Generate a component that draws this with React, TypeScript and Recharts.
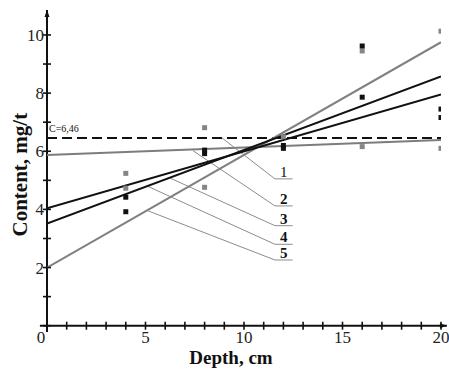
import React from 'react';
import {
  ComposedChart,
  Line,
  Scatter,
  XAxis,
  YAxis,
  ReferenceLine,
} from 'recharts';

// depths (cm) where the regression lines are drawn
const lineDepths = [0, 20];
const line1 = [5.87, 6.39];
const line2 = [4.04, 7.95];
const line3 = [3.51, 8.57];
const line4 = [2.0, 9.75];

// measured points
const greyDepths = [4, 4, 8, 8, 12, 16, 16, 20, 20];
const greyValues = [5.24, 4.73, 6.81, 4.76, 6.5, 9.45, 6.16, 10.13, 6.1];
const blackDepths = [4, 4, 8, 8, 12, 12, 16, 16, 20, 20];
const blackValues = [4.42, 3.92, 6.04, 5.92, 6.2, 6.1, 9.62, 7.86, 7.45, 7.16];

const background = 6.46;
const backgroundLabel = 'C=6,46';

const xTicks = [0, 1, 2, 3, 4, 5, 6, 7, 8, 9, 10, 11, 12, 13, 14, 15, 16, 17, 18, 19, 20];
const xTickLabels = [0, 5, 10, 15, 20];
const yTicks = [0, 1, 2, 3, 4, 5, 6, 7, 8, 9, 10];
const yTickLabels = [2, 4, 6, 8, 10];

// leader lines: start on a curve, end at the label underline
const calloutNames = ['1', '2', '3', '4', '5'];
const calloutStartX = [8.88, 7.41, 6.24, 5.06, 5.13];
const calloutStartY = [6.46, 6.02, 5.08, 4.81, 3.95];
const calloutY = [5.05, 4.12, 3.44, 2.8, 2.26];
const calloutLeft = 11.57;
const calloutRight = 12.47;

const toPoints = (xs: number[], ys: number[]) => xs.map((x, i) => ({ x, y: ys[i] }));

const serif = '"Liberation Serif", "Times New Roman", serif';

const XTick = (props: any) => {
  const { x, y, payload } = props;
  const v = payload.value;
  return (
    <g>
      <line x1={x} x2={x} y1={y - 4} y2={y + 4} stroke="#111" strokeWidth={1.6} />
      {xTickLabels.includes(v) && (
        <text
          x={v === 0 ? x - 6 : x}
          y={y + 17.5}
          textAnchor="middle"
          fontFamily={serif}
          fontSize={17}
          fill="#222"
        >
          {v}
        </text>
      )}
    </g>
  );
};

const YTick = (props: any) => {
  const { x, y, payload } = props;
  const v = payload.value;
  return (
    <g>
      <line x1={x - 4} x2={x + 4} y1={y} y2={y} stroke="#111" strokeWidth={1.6} />
      {yTickLabels.includes(v) && (
        <text
          x={x - 3}
          y={y + 6}
          textAnchor="end"
          fontFamily={serif}
          fontSize={17}
          fill="#222"
        >
          {v}
        </text>
      )}
    </g>
  );
};

const square = (fill: string) => (props: any) => (
  <rect x={props.cx - 2.5} y={props.cy - 2.5} width={5} height={5} fill={fill} />
);

const axisWithArrow = (dir: 'up' | 'right') => (props: any) => {
  const { x1, y1, x2, y2 } = props;
  const tipX = dir === 'right' ? Math.max(x1, x2) : x1;
  const tipY = dir === 'up' ? Math.min(y1, y2) : y1;
  const head =
    dir === 'up'
      ? `${tipX},${tipY} ${tipX - 2.5},${tipY + 7} ${tipX + 2.5},${tipY + 7}`
      : `${tipX},${tipY} ${tipX - 7},${tipY - 2.5} ${tipX - 7},${tipY + 2.5}`;
  return (
    <g>
      <line x1={x1} y1={y1} x2={x2} y2={y2} stroke="#111" strokeWidth={2} />
      <polygon points={head} fill="#111" />
    </g>
  );
};

export default function App() {
  return (
    <div style={{ position: 'absolute', left: 0, top: 0, width: 449, height: 371, background: '#fff' }}>
      <ComposedChart
        width={449}
        height={371}
        margin={{ top: 11.7, right: 8, bottom: 0, left: 0 }}
      >
        <ReferenceLine
          segment={[{ x: 0, y: -0.22 }, { x: 0, y: 10.86 }]}
          ifOverflow="visible"
          shape={axisWithArrow('up')}
        />
        <ReferenceLine
          segment={[{ x: -0.36, y: 0 }, { x: 20.3, y: 0 }]}
          ifOverflow="visible"
          shape={axisWithArrow('right')}
        />

        <XAxis
          type="number"
          dataKey="x"
          domain={[0, 20]}
          ticks={xTicks}
          interval={0}
          allowDataOverflow
          height={45.3}
          axisLine={false}
          tickLine={false}
          tickSize={0}
          tickMargin={0}
          tick={<XTick />}
          label={{
            content: (p: any) => (
              <text
                x={p.viewBox.x + p.viewBox.width / 2 - 13}
                y={p.viewBox.y + 38}
                textAnchor="middle"
                fontFamily={serif}
                fontWeight="bold"
                fontSize={19}
                fill="#111"
              >
                Depth, cm
              </text>
            ),
          }}
        />
        <YAxis
          type="number"
          dataKey="y"
          domain={[0, 10.8]}
          ticks={yTicks}
          interval={0}
          allowDataOverflow
          width={47}
          axisLine={false}
          tickLine={false}
          tickSize={0}
          tickMargin={0}
          tick={<YTick />}
          label={{
            content: (p: any) => {
              const cx = 20;
              const cy = p.viewBox.y + p.viewBox.height / 2 + 6;
              return (
                <text
                  x={cx}
                  y={cy}
                  transform={`rotate(-90 ${cx} ${cy})`}
                  textAnchor="middle"
                  dominantBaseline="central"
                  fontFamily={serif}
                  fontWeight="bold"
                  fontSize={21}
                  fill="#111"
                >
                  Content, mg/t
                </text>
              );
            },
          }}
        />

        <ReferenceLine
          y={background}
          stroke="#111"
          strokeWidth={2}
          strokeDasharray="10 5"
          label={{
            content: (p: any) => (
              <text
                x={p.viewBox.x + 2}
                y={p.viewBox.y - 6}
                fontFamily={serif}
                fontSize={10}
                fill="#111"
              >
                {backgroundLabel}
              </text>
            ),
          }}
        />

        {calloutNames.map((name, i) => (
          <ReferenceLine
            key={`lead-${name}`}
            segment={[
              { x: calloutStartX[i], y: calloutStartY[i] },
              { x: calloutLeft, y: calloutY[i] },
            ]}
            stroke="#8c8c8c"
            strokeWidth={1}
          />
        ))}
        {calloutNames.map((name, i) => (
          <ReferenceLine
            key={`under-${name}`}
            segment={[
              { x: calloutLeft, y: calloutY[i] },
              { x: calloutRight, y: calloutY[i] },
            ]}
            stroke="#8c8c8c"
            strokeWidth={1}
            label={{
              content: (p: any) => (
                <text
                  x={p.viewBox.x + p.viewBox.width / 2}
                  y={p.viewBox.y - 2}
                  textAnchor="middle"
                  fontFamily={serif}
                  fontWeight={i === 0 ? 'normal' : 'bold'}
                  fontSize={15}
                  fill="#111"
                >
                  {name}
                </text>
              ),
            }}
          />
        ))}

        <Line data={toPoints(lineDepths, line1)} dataKey="y" type="linear" stroke="#7d7d7d" strokeWidth={2} dot={false} isAnimationActive={false} />
        <Line data={toPoints(lineDepths, line4)} dataKey="y" type="linear" stroke="#808080" strokeWidth={2} dot={false} isAnimationActive={false} />
        <Line data={toPoints(lineDepths, line2)} dataKey="y" type="linear" stroke="#111" strokeWidth={2} dot={false} isAnimationActive={false} />
        <Line data={toPoints(lineDepths, line3)} dataKey="y" type="linear" stroke="#111" strokeWidth={2} dot={false} isAnimationActive={false} />

        <Scatter data={toPoints(greyDepths, greyValues)} dataKey="y" shape={square('#858585')} isAnimationActive={false} />
        <Scatter data={toPoints(blackDepths, blackValues)} dataKey="y" shape={square('#111')} isAnimationActive={false} />
      </ComposedChart>
    </div>
  );
}
